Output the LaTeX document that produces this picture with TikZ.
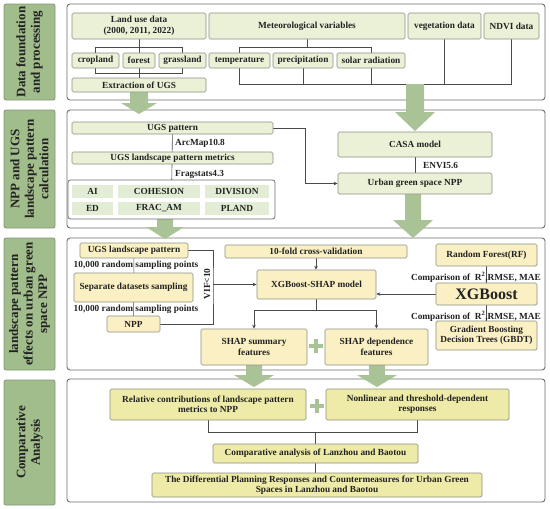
\documentclass[tikz,border=0pt]{standalone}
\usepackage{fontspec}
\setmainfont{Liberation Serif}
\usetikzlibrary{arrows.meta}
\definecolor{gfill}{HTML}{EAF1D7}
\definecolor{cellfill}{HTML}{E3EDD6}
\definecolor{yfill}{HTML}{FBF0C3}
\definecolor{kfill}{HTML}{EEEBA8}
\definecolor{boxline}{HTML}{8A9080}
\definecolor{sidefill}{HTML}{A2BD8C}
\definecolor{sideline}{HTML}{80977A}
\definecolor{panline}{HTML}{6E6E6E}
\definecolor{connc}{HTML}{4A4A4A}
\definecolor{bigg}{HTML}{A9C296}
\definecolor{txt}{HTML}{222222}
\pgfdeclarelayer{bg}\pgfdeclarelayer{lines}\pgfsetlayers{bg,lines,main}
\newcommand{\fsz}{\fontsize{9.3}{10.5}\selectfont}
\newcommand{\bx}[7]{\node[#1, minimum width={(#5)-(#3)}, minimum height={(#6)-(#4)}] (#2) at ({((#3)+(#5))/2},{((#4)+(#6))/2}) {#7};}
\newcommand{\bigarr}[6]{\fill[bigg] ({#1-#5},#2) -- ({#1+#5},#2) -- ({#1+#5},#3) -- ({#1+#6},#3) -- (#1,#4) -- ({#1-#6},#3) -- ({#1-#5},#3) -- cycle;}
\newcommand{\plussign}[2]{\draw[bigg, line width=3.5pt] ({#1-7},#2) -- ({#1+7},#2) ({#1},{#2-7}) -- ({#1},{#2+7});}
\tikzset{
  basebox/.style={rounded corners=1.5pt, inner sep=0pt, align=center, font=\bfseries\fsz, text=txt, line width=0.7pt, draw=boxline},
  gbox/.style={basebox, fill=gfill},
  ybox/.style={basebox, fill=yfill},
  kbox/.style={basebox, fill=kfill},
  mbox/.style={basebox, fill=white, draw=panline, rounded corners=2.5pt, line width=0.8pt},
  cell/.style={fill=cellfill, inner sep=0pt, font=\bfseries\fsz, text=txt},
  side/.style={draw=sideline, fill=sidefill, rounded corners=2pt, rotate=90, align=center, inner sep=0pt, font=\bfseries\fontsize{13}{14.5}\selectfont, text=txt, line width=0.8pt},
  panel/.style={draw=panline, fill=white, rounded corners=3pt, line width=0.9pt, inner sep=0pt},
  lab/.style={font=\bfseries\fsz, inner sep=0pt, text=txt},
  conn/.style={draw=connc, line width=0.6pt},
  arr/.style={conn, -{Stealth[length=4pt,width=3.5pt]}}
}
\begin{document}
\begin{tikzpicture}[x=1pt,y=-1pt]
\useasboundingbox (0,0) rectangle (550,509);
% panels
\begin{pgfonlayer}{bg}
\fill[white] (0,0) rectangle (550,509);
\bx{panel}{p1}{67}{4}{545}{100}{}
\bx{panel}{p2}{67}{110}{545}{228}{}
\bx{panel}{p3}{67}{238}{545}{370}{}
\bx{panel}{p4}{67}{379}{545}{502}{}
\end{pgfonlayer}
% side labels
\node[side, minimum width=96, minimum height=51] (s1) at (29.5,52) {Data foundation\\and processing};
\node[side, minimum width=118, minimum height=51] (s2) at (29.5,169) {NPP and UGS\\landscape pattern\\calculation};
\node[side, minimum width=132, minimum height=51] (s3) at (29.5,304) {landscape pattern\\effects on urban green\\space NPP};
\node[side, minimum width=125, minimum height=51] (s4) at (29.5,442.5) {Comparative\\Analysis};
% panel 1
\bx{gbox}{land}{72}{13}{206}{39}{Land use data\\(2000, 2011, 2022)}
\bx{gbox}{met}{209}{13}{405}{39}{Meteorological variables}
\bx{gbox}{veg}{408}{13}{481}{39}{vegetation data}
\bx{gbox}{ndvi}{484}{13}{539}{39}{NDVI data}
\bx{gbox}{crop}{72}{53}{119}{68}{cropland}
\bx{gbox}{forest}{123}{53}{155}{68}{forest}
\bx{gbox}{grass}{159}{53}{206}{68}{grassland}
\bx{gbox}{temp}{209}{53}{270}{68}{temperature}
\bx{gbox}{prec}{273}{53}{333}{68}{precipitation}
\bx{gbox}{solar}{337}{53}{405}{68}{solar radiation}
\bx{gbox}{ext}{72}{78}{206}{92}{Extraction of UGS}
% panel 2
\bx{gbox}{ugsp}{72}{122}{273}{134}{UGS pattern}
\bx{gbox}{ugsm}{72}{152}{273}{164}{UGS landscape pattern metrics}
\bx{mbox}{mets}{68}{180}{275}{219}{}
\bx{cell}{ai}{72}{185}{113}{198}{AI}
\bx{cell}{coh}{118}{185}{200}{198}{COHESION}
\bx{cell}{div}{205}{185}{269}{198}{DIVISION}
\bx{cell}{ed}{72}{202}{113}{215}{ED}
\bx{cell}{frac}{118}{202}{200}{215}{FRAC\_AM}
\bx{cell}{pland}{205}{202}{269}{215}{PLAND}
\node[lab, anchor=west] (arcmap) at (175,143) {ArcMap10.8};
\node[lab, anchor=west] (frag) at (175,174) {Fragstats4.3};
\bx{gbox}{casa}{338}{132}{492}{157}{CASA model}
\bx{gbox}{npp}{338}{173}{492}{194}{Urban green space NPP}
\node[lab, anchor=west] (envi) at (423,165) {ENVI5.6};
% panel 3
\bx{ybox}{ugsl}{80}{243}{188}{258}{UGS landscape pattern}
\node[lab] (rs1) at (136,265) {10,000 random sampling points};
\bx{ybox}{sep}{74}{273}{193}{302}{Separate datasets sampling}
\node[lab] (rs2) at (136,309) {10,000 random sampling points};
\bx{ybox}{nppb}{107}{316}{160}{332}{NPP}
\node[lab, rotate=90] (vif) at (207,284) {VIF<10};
\bx{ybox}{cv}{225}{245}{407}{258}{10-fold cross-validation}
\bx{ybox}{xgs}{257}{270}{376}{299}{XGBoost-SHAP model}
\bx{ybox}{sum}{201}{329}{307}{365}{SHAP summary\\features}
\bx{ybox}{dep}{325}{329}{428}{365}{SHAP dependence\\features}
\bx{ybox}{rf}{436}{244}{537}{266}{Random Forest(RF)}
\bx{ybox}{xgb}{436}{283}{537}{305}{\fontsize{16}{18}\selectfont XGBoost}
\bx{ybox}{gbdt}{436}{321}{537}{350}{Gradient Boosting\\Decision Trees (GBDT)}
\node[lab] (cmp1) at (476,277) {Comparison of \ R\textsuperscript{2},RMSE, MAE};
\node[lab] (cmp2) at (476,316) {Comparison of \ R\textsuperscript{2},RMSE, MAE};
% panel 4
\bx{kbox}{rel}{110}{389}{306}{420}{Relative contributions of landscape pattern\\metrics to NPP}
\bx{kbox}{nonl}{326}{389}{509}{420}{Nonlinear and threshold-dependent\\responses}
\bx{kbox}{comp}{213}{444}{418}{463}{Comparative analysis of Lanzhou and Baotou}
\bx{kbox}{diff}{152}{473}{482}{497}{The Differential Planning Responses and Countermeasures for Urban Green\\Spaces in Lanzhou and Baotou}
% connectors
\begin{pgfonlayer}{lines}
\draw[conn] (land.center) -- (ext.center);
\draw[conn] (crop.center |- 0,47) rectangle (grass.center |- 0,73);
\draw[conn] (met.center) -- (met.center |- 0,47);
\draw[conn] (temp.center |- 0,47) -- (solar.center |- 0,47);
\draw[conn] (temp.center |- 0,47) -- (temp.center |- 0,84) -- (ndvi.center |- 0,84) -- (ndvi.center);
\draw[conn] (prec.center) -- (prec.center |- 0,84);
\draw[conn] (solar.center |- 0,47) -- (solar.center |- 0,84);
\draw[conn] (veg.center) -- (veg.center |- 0,84);
\draw[conn] (ugsp.center) -- (mets.center);
\draw[arr] (ugsp.east) -- ++(32,0) |- (npp.west);
\draw[conn] (casa.center) -- (npp.center);
\draw[conn] (ugsl.center) -- (nppb.center);
\coordinate (vifc) at (213,284.5);
\draw[conn] (ugsl.east) -| (vifc) |- (nppb.east);
\draw[arr] (vifc) -- (xgs.west);
\draw[arr] (cv.south) -- (cv.south |- xgs.north);
\coordinate (spl) at (316.5,310);
\draw[conn] (xgs.south) -- (spl);
\draw[arr] (spl) -| (sum.north);
\draw[arr] (spl) -| (dep.north);
\draw[arr] (xgb.west) -- (xgb.west -| xgs.east);
\draw[conn] (rf.center) -- (gbdt.center);
\draw[conn] (rel.south) -- ++(0,12) -| (nonl.south);
\draw[conn] (comp.north |- 0,432) -- (comp.north);
\draw[conn] (comp.south) -- (diff.north -| comp.south);
% big arrows
\bigarr{139}{92}{103}{114}{9}{18}
\bigarr{415}{84}{112}{131}{9}{20}
\bigarr{165}{219}{227}{239}{8}{19}
\bigarr{413}{194}{220}{238}{8}{20}
\bigarr{254}{365}{375}{387}{8}{20}
\bigarr{377}{365}{375}{387}{8}{20}
\end{pgfonlayer}
\plussign{316}{346}
\plussign{317}{406}
\end{tikzpicture}
\end{document}
